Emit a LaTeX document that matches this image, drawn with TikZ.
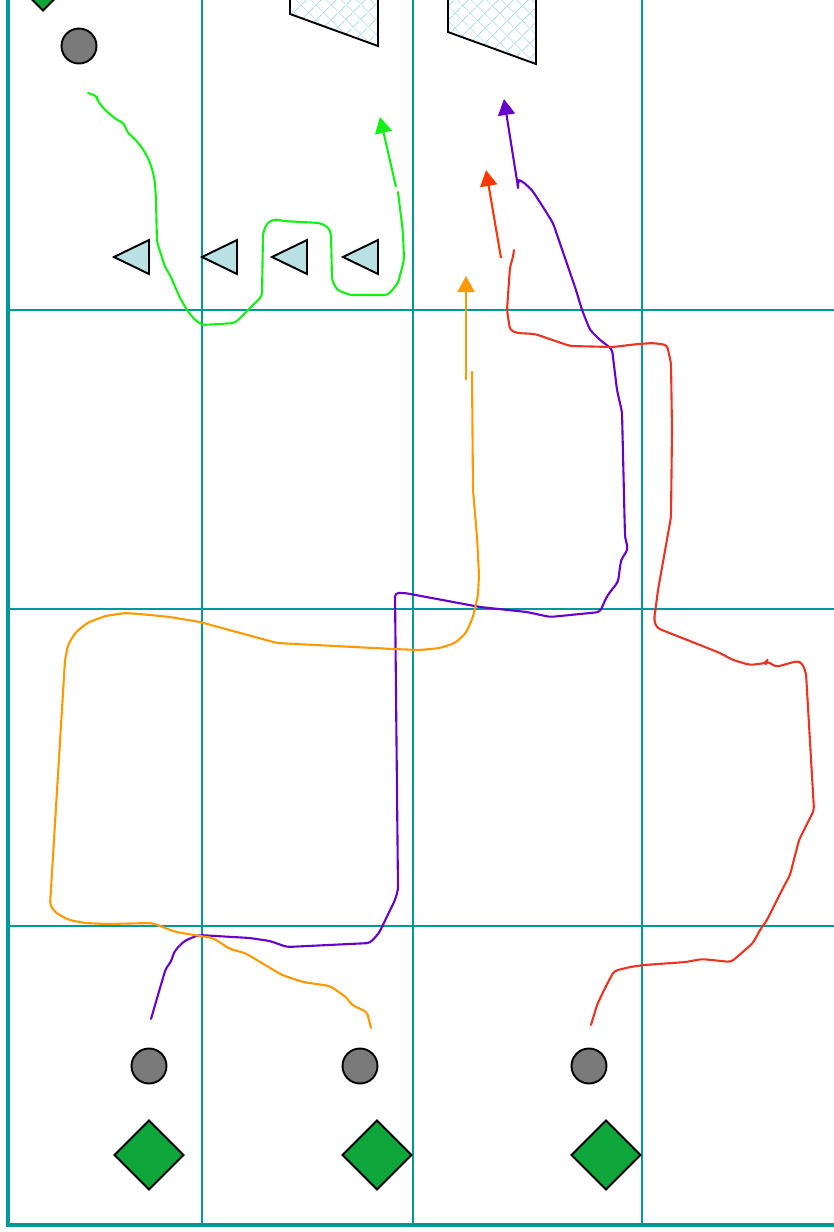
\documentclass[tikz,border=0pt]{standalone}
\usetikzlibrary{arrows.meta}
\usetikzlibrary{patterns.meta}
\usetikzlibrary{shapes.geometric}
\definecolor{gridteal}{RGB}{0,153,153}
\definecolor{routegreen}{RGB}{20,240,20}
\definecolor{routepurple}{RGB}{102,0,204}
\definecolor{routered}{RGB}{235,52,35}
\definecolor{arrowred}{RGB}{255,55,0}
\definecolor{routeorange}{RGB}{255,153,0}
\definecolor{playergreen}{RGB}{14,165,58}
\definecolor{playergray}{RGB}{122,122,122}
\definecolor{conefill}{RGB}{185,224,227}
\definecolor{hatchblue}{RGB}{175,222,226}

\begin{document}
\begin{tikzpicture}[x=0.02cm,y=-0.02cm,
  gridline/.style={draw=gridteal,line width=1.2pt},
  frameline/.style={draw=gridteal,line width=2pt},
  ball/.style={circle,draw=black,fill=playergray,line width=1.1pt,minimum size=0.7cm,inner sep=0pt},
  man/.style={diamond,draw=black,fill=playergreen,line width=1.1pt,minimum size=1.4cm,inner sep=0pt},
  cone/.style={draw=black,fill=conefill,line width=1.1pt,line join=miter},
  route/.style={line width=1.2pt,line join=round,line cap=round,rounded corners=2pt},
  run/.style={line width=1.2pt,-{Triangle[length=3.2mm,width=3.4mm]}}]
\clip (0,0) rectangle (834,1232);

\draw[gridline] (202,0) -- (202,1225);
\draw[gridline] (413,0) -- (413,1225);
\draw[gridline] (642,0) -- (642,1225);
\draw[gridline] (8,310) -- (834,310);
\draw[gridline] (8,609) -- (834,609);
\draw[gridline] (8,926) -- (834,926);
\draw[frameline] (8,0) -- (8,1225) -- (834,1225);

\fill[pattern={Lines[angle=45,distance=6.5pt,line width=0.5pt]},pattern color=hatchblue] (290,-40) -- (290,14) -- (378,46) -- (378,-40) -- cycle;
\fill[pattern={Lines[angle=-45,distance=6.5pt,line width=0.5pt]},pattern color=hatchblue] (290,-40) -- (290,14) -- (378,46) -- (378,-40) -- cycle;
\draw[line width=1.1pt] (290,-40) -- (290,14) -- (378,46) -- (378,-40);
\fill[pattern={Lines[angle=45,distance=6.5pt,line width=0.5pt]},pattern color=hatchblue] (448,-40) -- (448,32) -- (536,64) -- (536,-40) -- cycle;
\fill[pattern={Lines[angle=-45,distance=6.5pt,line width=0.5pt]},pattern color=hatchblue] (448,-40) -- (448,32) -- (536,64) -- (536,-40) -- cycle;
\draw[line width=1.1pt] (448,-40) -- (448,32) -- (536,64) -- (536,-40);

\foreach \tx in {114,202,272,343}
  \draw[cone] (\tx+35,240) -- (\tx+35,274) -- (\tx,257) -- cycle;

\node[man] (d0) at (43,-24) {};
\node[ball] (b0) at (79,46) {};
\node[ball] (b1) at (149,1066) {};
\node[ball] (b2) at (360,1066) {};
\node[ball] (b3) at (589,1066) {};
\node[man] (d1) at (149,1155) {};
\node[man] (d2) at (377,1155) {};
\node[man] (d3) at (606,1155) {};

\draw[route,routegreen] (88,93) -- (97,96) -- (97,100) -- (105,110) -- (117,120) -- (124,123) -- (127,132) -- (135,139) -- (143,149) -- (149,160) -- (153,172) -- (155,183) -- (156,200) -- (157,242) -- (165,267) -- (170,275) -- (180,298) -- (187,310) -- (194,319) -- (202,325) -- (235,323) -- (262,296) -- (263,233) -- (267,223) -- (275,219) -- (283,221) -- (320,223) -- (328,227) -- (331,233) -- (332,280) -- (337,290) -- (350,295) -- (388,295) -- (398,283) -- (404,260) -- (403,233) -- (398,192);
\draw[run,routegreen] (396,187) -- (380,117);

\draw[route,routepurple] (151,1019) -- (160,988) -- (166,968) -- (171,962) -- (174,952) -- (180,945) -- (186,940) -- (199,935) -- (250,938) -- (270,941) -- (287,947) -- (370,943) -- (379,933) -- (395,900) -- (398,890) -- (395,593) -- (405,593) -- (480,607) -- (527,612) -- (550,617) -- (600,612) -- (606,598) -- (610,592) -- (618,582) -- (621,560) -- (628,549) -- (625,537) -- (622,412) -- (617,390) -- (612,349) -- (600,340) -- (590,330) -- (582,310) -- (576,290) -- (553,223) -- (543,207) -- (532,190) -- (522,181) -- (518,180) -- (518,188);
\draw[run,routepurple] (518,187) -- (504,99);

\draw[route,routered] (591,1025) -- (597,1005) -- (604,990) -- (614,971) -- (630,967) -- (644,965) -- (686,962) -- (702,959) -- (731,962) -- (737,957) -- (753,943) -- (760,930) -- (767,920) -- (782,890) -- (790,875) -- (799,840) -- (814,810) -- (806,673) -- (802,663) -- (797,661) -- (776,667) -- (767,661) -- (766,663) -- (750,665) -- (733,660) -- (720,653) -- (700,645) -- (667,632) -- (657,628) -- (654,620) -- (658,590) -- (671,517) -- (672,430) -- (671,363) -- (667,345) -- (653,343) -- (638,344) -- (613,347) -- (570,346) -- (535,334) -- (517,333) -- (510,330) -- (507,310) -- (510,267) -- (513,257) -- (514,250);
\draw[run,arrowred] (501,258) -- (486,170);

\draw[route,routeorange] (371,1028) -- (367,1012) -- (352,1005) -- (346,997) -- (330,986) -- (303,982) -- (282,975) -- (245,953) -- (230,949) -- (213,938) -- (200,936) -- (176,932) -- (152,923) -- (106,924) -- (85,923) -- (69,920) -- (56,913) -- (50,905) -- (65,660) -- (68,645) -- (75,633) -- (87,623) -- (105,616) -- (125,613) -- (140,614) -- (170,617) -- (200,622) -- (277,643) -- (393,649) -- (420,650) -- (440,648) -- (455,643) -- (466,633) -- (473,617) -- (478,595) -- (479,575) -- (477,537) -- (473,490) -- (472,372);
\draw[run,routeorange] (466,380) -- (466,276);
\end{tikzpicture}
\end{document}
